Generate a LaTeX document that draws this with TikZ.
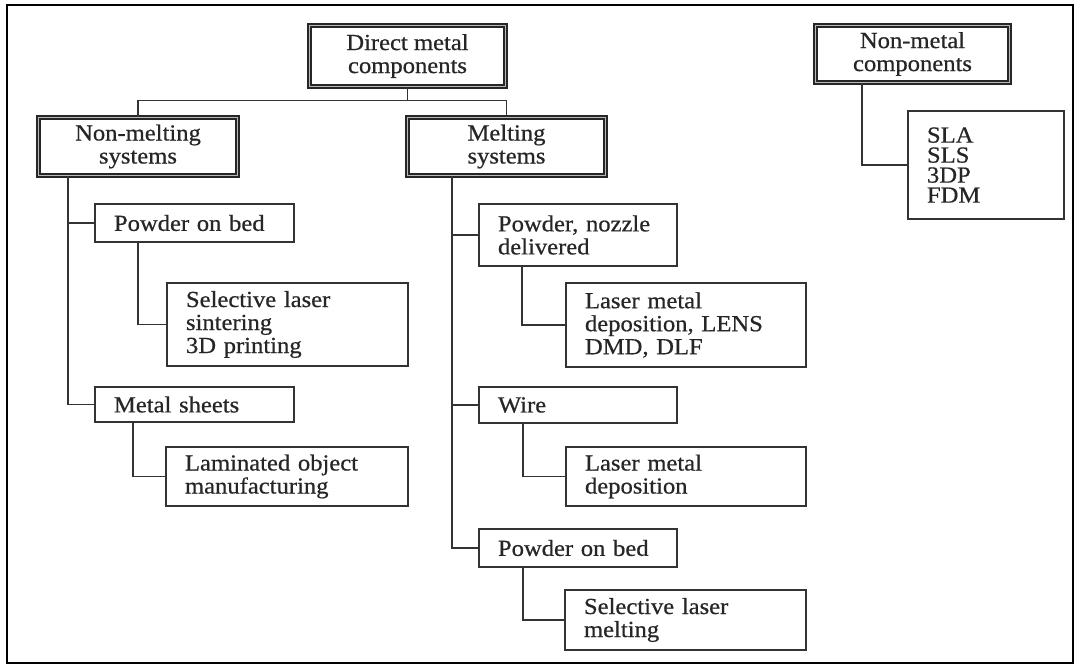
\documentclass[tikz,border=0pt]{standalone}
\usepackage{fontspec}
\setmainfont{Liberation Serif}[FakeStretch=1.07,FakeBold=0.6]
\begin{document}
\begin{tikzpicture}[x=0.5pt,y=-0.5pt,
  lnk/.style={draw=black!80, line width=0.9pt},
  topbox/.style={draw=black!85, line width=0.9pt, double=gray!55, double distance=0.9pt,
    align=center, inner sep=0pt, font=\fontsize{11.5pt}{11.5pt}\selectfont, text=black!85},
  subbox/.style={draw=black!80, line width=0.8pt, align=left, inner xsep=9.5pt, inner ysep=0pt,
    font=\fontsize{11.5pt}{11.5pt}\selectfont, text=black!85},
]
\useasboundingbox (0,0) rectangle (1078,666);
\fill[white] (0,0) rectangle (1078,666);
\draw[line width=1.4pt] (7,5) rectangle (1073,663);

% top-level boxes
\node[topbox, minimum width=98pt, minimum height=30.5pt] (dmc) at (407.5,56) {Direct metal\\components};
\node[topbox, minimum width=99.5pt, minimum height=29pt] (nmelt) at (138,146.5) {Non-melting\\systems};
\node[topbox, minimum width=99pt, minimum height=29pt] (melt) at (506.5,146.5) {Melting\\systems};
\node[topbox, minimum width=97pt, minimum height=28.5pt] (nonmetal) at (912.5,54) {Non-metal\\components};

% sub boxes
\node[subbox, text width=59pt, minimum height=54pt, font=\fontsize{11.5pt}{10pt}\selectfont] (sla) at (986,165) {SLA\\SLS\\3DP\\FDM};
\node[subbox, text width=80.5pt, minimum height=19pt] (pob1) at (194.5,223) {Powder on bed};
\node[subbox, text width=101.5pt, minimum height=41.5pt] (sls) at (287.5,324.5) {Selective laser\\sintering\\3D printing};
\node[subbox, text width=80.5pt, minimum height=17.5pt] (ms) at (194.5,404.5) {Metal sheets};
\node[subbox, text width=102pt, minimum height=29.5pt] (lom) at (287,476.5) {Laminated object\\manufacturing};
\node[subbox, text width=80pt, minimum height=31pt] (pnd) at (578,235) {Powder, nozzle\\delivered};
\node[subbox, text width=101pt, minimum height=42pt] (lmd1) at (686,325) {Laser metal\\deposition, LENS\\DMD, DLF};
\node[subbox, text width=80pt, minimum height=18pt] (wire) at (578,405) {Wire};
\node[subbox, text width=101pt, minimum height=29.5pt] (lmd2) at (686,476.5) {Laser metal\\deposition};
\node[subbox, text width=80pt, minimum height=19pt] (pob2) at (578,548) {Powder on bed};
\node[subbox, text width=101.5pt, minimum height=30pt] (slm) at (685.5,620) {Selective laser\\melting};

% connectors
\path (dmc.south) ++(0,13) coordinate (j0);
\draw[lnk] (dmc.south) -- (j0) -| (nmelt.north);
\draw[lnk] (j0) -| (melt.north);

\draw[lnk] (nmelt.south -| 68,0) |- (pob1.west);
\draw[lnk] (nmelt.south -| 68,0) |- (ms.west);
\draw[lnk] (pob1.south -| 138,0) |- (sls.west);
\draw[lnk] (ms.south -| 133,0) |- (lom.west);

\draw[lnk] (melt.south -| 452,0) |- (pnd.west);
\draw[lnk] (melt.south -| 452,0) |- (wire.west);
\draw[lnk] (melt.south -| 452,0) |- (pob2.west);
\draw[lnk] (pnd.south -| 522,0) |- (lmd1.west);
\draw[lnk] (wire.south -| 523,0) |- (lmd2.west);
\draw[lnk] (pob2.south -| 523,0) |- (slm.west);

\draw[lnk] (nonmetal.south -| 862,0) |- (sla.west);
\end{tikzpicture}
\end{document}
